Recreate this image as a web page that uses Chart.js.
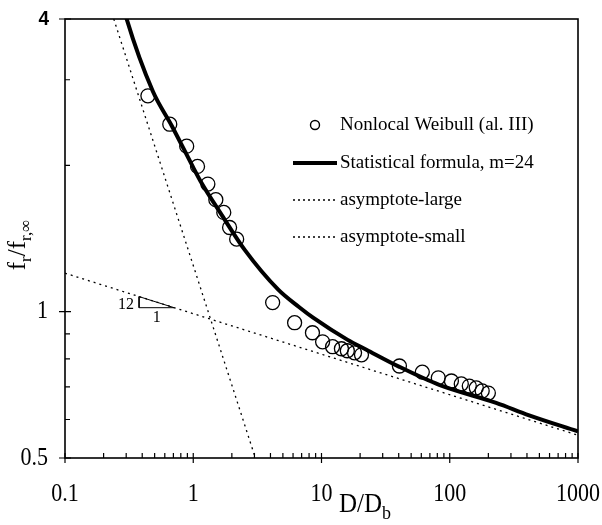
<!DOCTYPE html>
<html><head><meta charset="utf-8">
<script src="https://cdn.jsdelivr.net/npm/chart.js@4/dist/chart.umd.min.js"></script>
<style>html,body{margin:0;padding:0;background:#fff}</style>
</head><body>
<canvas id="c" width="602" height="525"></canvas>
<script>
// ---- data ----
const weibullX = [0.443, 0.656, 0.889, 1.08, 1.30, 1.50, 1.73, 1.92, 2.18,
                  4.16, 6.17, 8.5, 10.2, 12.2, 14.3, 15.9, 18.1, 20.5,
                  40.5, 61.1, 81.4, 103, 123, 142, 161, 179, 200];
const weibullY = [2.78, 2.43, 2.19, 1.99, 1.83, 1.70, 1.60, 1.49, 1.41,
                  1.044, 0.949, 0.905, 0.867, 0.847, 0.839, 0.831, 0.823, 0.815,
                  0.773, 0.751, 0.731, 0.720, 0.710, 0.703, 0.697, 0.687, 0.680];
const formulaX = [0.295, 0.30, 0.484, 0.681, 0.99, 1.14, 1.67, 2.52, 4.6, 6.75, 8.6, 16, 22.4, 40.5, 82.8, 230, 416, 1000];
const formulaY = [4.10, 4.03, 2.84, 2.41, 1.99, 1.855, 1.58, 1.34, 1.11, 1.02, 0.972, 0.875, 0.835, 0.770, 0.707, 0.649, 0.612, 0.567];
const asymLargeX = [0.1, 1000];
const asymLargeY = [1.20, 0.557];
const asymSmallX = [0.24, 3.05];
const asymSmallY = [4.0, 0.5];
const slopeX = [0.378, 0.378, 0.71, 0.378];
const slopeY = [1.074, 1.019, 1.019, 1.074];
const xTickValues = [0.1, 1, 10, 100, 1000];
const xTickLabels = ['0.1', '1', '10', '100', '1000'];
const yTickValues = [0.5, 1, 4];
const yTickLabels = ['0.5', '1', '4'];
const yMinorTicks = [0.6, 0.7, 0.8, 0.9, 2, 3];
const xMinorMult = [2, 3, 4, 5, 6, 7, 8, 9];
const legendLabels = ['Nonlocal Weibull (al. III)', 'Statistical formula, m=24', 'asymptote-large', 'asymptote-small'];

const pts = (xs, ys) => xs.map((x, i) => ({x: x, y: ys[i]}));
const SERIF = '"Liberation Serif", "Times New Roman", serif';
const SANS = '"Liberation Sans", Arial, sans-serif';

function stretchText(ctx, text, x, y, sy) {
  ctx.save(); ctx.translate(x, y); ctx.scale(1, sy); ctx.fillText(text, 0, 0); ctx.restore();
}

const decor = {
  id: 'decor',
  afterDraw(chart) {
    const ctx = chart.ctx, a = chart.chartArea;
    const xs = chart.scales.x, ys = chart.scales.y;
    ctx.save();
    ctx.strokeStyle = '#000';
    ctx.fillStyle = '#000';
    // box
    ctx.lineWidth = 1.6;
    ctx.strokeRect(a.left, a.top, a.right - a.left, a.bottom - a.top);
    ctx.lineWidth = 1.2;
    ctx.beginPath();
    yMinorTicks.forEach(v => { const p = ys.getPixelForValue(v); ctx.moveTo(a.left, p); ctx.lineTo(a.left + 5, p); });
    yTickValues.forEach(v => { const p = ys.getPixelForValue(v); ctx.moveTo(a.left - 6, p); ctx.lineTo(a.left + 6, p); });
    xTickValues.forEach((v, i) => {
      const p = xs.getPixelForValue(v);
      ctx.moveTo(p, a.bottom + 5); ctx.lineTo(p, a.bottom - 5);
      if (i < xTickValues.length - 1) {
        xMinorMult.forEach(m => { const q = xs.getPixelForValue(v * m); ctx.moveTo(q, a.bottom); ctx.lineTo(q, a.bottom - 5); });
      }
    });
    ctx.stroke();

    // tick labels
    ctx.textBaseline = 'middle';
    ctx.textAlign = 'center';
    ctx.font = '22px ' + SERIF;
    xTickValues.forEach((v, i) => stretchText(ctx, xTickLabels[i], xs.getPixelForValue(v), 494, 1.18));
    ctx.textAlign = 'right';
    yTickValues.forEach((v, i) => {
      if (v === 4) { ctx.font = 'bold 19px ' + SANS; stretchText(ctx, yTickLabels[i], 49, ys.getPixelForValue(v), 1.1); }
      else { ctx.font = '22px ' + SERIF; stretchText(ctx, yTickLabels[i], 48, ys.getPixelForValue(v), 1.18); }
    });

    // slope labels
    ctx.font = '16px ' + SERIF;
    ctx.textAlign = 'center';
    ctx.fillText('12', xs.getPixelForValue(0.378) - 13, ys.getPixelForValue(1.045) + 2);
    ctx.fillText('1', xs.getPixelForValue(0.52), ys.getPixelForValue(1.019) + 10);

    // legend
    const lx0 = 293, lx1 = 337, tx = 340;
    const ly = [125, 163, 200, 237];
    ctx.font = '19px ' + SERIF;
    ctx.textAlign = 'left';
    ctx.lineWidth = 1.4;
    ctx.beginPath(); ctx.arc(315, ly[0], 4.5, 0, Math.PI * 2); ctx.stroke();
    ctx.lineWidth = 4;
    ctx.beginPath(); ctx.moveTo(lx0, ly[1]); ctx.lineTo(lx1, ly[1]); ctx.stroke();
    ctx.lineWidth = 1.3; ctx.setLineDash([2, 3]);
    ctx.beginPath(); ctx.moveTo(lx0, ly[2]); ctx.lineTo(lx1, ly[2]); ctx.stroke();
    ctx.beginPath(); ctx.moveTo(lx0, ly[3]); ctx.lineTo(lx1, ly[3]); ctx.stroke();
    ctx.setLineDash([]);
    legendLabels.forEach((t, i) => ctx.fillText(t, tx, ly[i]));

    // x title: D/D_b
    ctx.textBaseline = 'alphabetic';
    ctx.font = '25px ' + SERIF;
    stretchText(ctx, 'D/D', 339, 512, 1.12);
    const wD = ctx.measureText('D/D').width;
    ctx.font = '18px ' + SERIF;
    stretchText(ctx, 'b', 339 + wD, 519, 1.1);

    // y title: f_r/f_r,∞ rotated
    ctx.translate(25, 245);
    ctx.rotate(-Math.PI / 2);
    const parts = [['f', 25, 0], ['r', 17, 6], ['/f', 25, 0], ['r,\u221E', 17, 6]];
    let w = 0;
    parts.forEach(p => { ctx.font = p[1] + 'px ' + SERIF; w += ctx.measureText(p[0]).width; });
    let cx = -w / 2;
    parts.forEach(p => { ctx.font = p[1] + 'px ' + SERIF; ctx.fillText(p[0], cx, p[2]); cx += ctx.measureText(p[0]).width; });
    ctx.restore();
  }
};

new Chart(document.getElementById('c'), {
  type: 'scatter',
  data: {
    datasets: [
      {label: legendLabels[0], data: pts(weibullX, weibullY), showLine: false, pointStyle: 'circle',
       pointRadius: 7, pointBorderWidth: 1.3, borderColor: '#000', backgroundColor: 'rgba(0,0,0,0)', order: 1},
      {label: legendLabels[1], data: pts(formulaX, formulaY), showLine: true, borderColor: '#000', borderWidth: 4,
       pointRadius: 0, cubicInterpolationMode: 'monotone', order: 2},
      {label: legendLabels[2], data: pts(asymLargeX, asymLargeY), showLine: true, borderColor: '#000', borderWidth: 1.3,
       borderDash: [2, 4], pointRadius: 0, order: 3},
      {label: legendLabels[3], data: pts(asymSmallX, asymSmallY), showLine: true, borderColor: '#000', borderWidth: 1.3,
       borderDash: [2, 4], pointRadius: 0, order: 4},
      {label: 'slope', data: pts(slopeX, slopeY), showLine: true, borderColor: '#000', borderWidth: 1,
       pointRadius: 0, order: 5}
    ]
  },
  options: {
    responsive: false, animation: false, devicePixelRatio: 1,
    layout: {padding: {left: 0, right: 24, top: 19, bottom: 0}},
    plugins: {legend: {display: false}, tooltip: {enabled: false}},
    scales: {
      x: {type: 'logarithmic', min: 0.1, max: 1000,
          grid: {display: false, drawTicks: false}, border: {display: false},
          afterBuildTicks: s => { s.ticks = xTickValues.map(v => ({value: v})); },
          afterFit: s => { s.height = 67; },
          ticks: {display: false}},
      y: {type: 'logarithmic', min: 0.5, max: 4,
          grid: {display: false, drawTicks: false}, border: {display: false},
          afterBuildTicks: s => { s.ticks = yTickValues.map(v => ({value: v})); },
          afterFit: s => { s.width = 65; },
          ticks: {display: false}}
    }
  },
  plugins: [decor]
});
</script>
</body></html>
